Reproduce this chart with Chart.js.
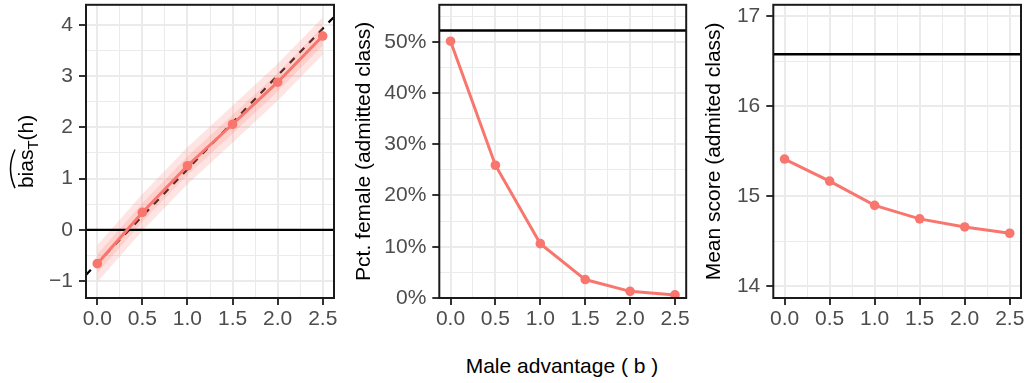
<!DOCTYPE html>
<html>
<head>
<meta charset="utf-8">
<script src="https://cdn.jsdelivr.net/npm/chart.js@4.4.1/dist/chart.umd.min.js"></script>
<style>
  body { margin: 0; background: #fff; width: 1027px; height: 383px; position: relative; overflow: hidden;
         font-family: 'Liberation Sans', Arial, sans-serif; }
  canvas { position: absolute; top: 0; }
  #xtitle { position: absolute; top: 353px; left: 362px; width: 400px; text-align: center;
            font-size: 21px; line-height: 1.2; color: #000; }
</style>
</head>
<body>
<canvas id="biasChart" width="343" height="335" style="left:0px"></canvas>
<canvas id="femaleChart" width="348" height="335" style="left:343px"></canvas>
<canvas id="scoreChart" width="336" height="335" style="left:691px"></canvas>
<div id="xtitle">Male advantage ( b )</div>
<script>
// shared x axis: male advantage b
const maleAdvantage = [0, 0.5, 1, 1.5, 2, 2.5];
const xTicks = [0, 0.5, 1, 1.5, 2, 2.5];
const xTickLabels = ['0.0', '0.5', '1.0', '1.5', '2.0', '2.5'];
const xMinor = [0.25, 0.75, 1.25, 1.75, 2.25];
const X_MIN = -0.125, X_MAX = 2.625;

// panel 1: estimated bias with two bands
const biasHat = [-0.66, 0.34, 1.25, 2.06, 2.88, 3.78];
const biasInnerLow = [-0.84, 0.16, 1.07, 1.88, 2.70, 3.60];
const biasInnerHigh = [-0.48, 0.52, 1.43, 2.24, 3.06, 3.96];
const biasOuterLow = [-1.02, -0.02, 0.89, 1.70, 2.52, 3.42];
const biasOuterHigh = [-0.30, 0.70, 1.61, 2.42, 3.24, 4.14];
const biasRefIntercept = -0.65, biasRefSlope = 1.83; // dashed reference line
const biasZero = 0;
const biasTicks = [-1, 0, 1, 2, 3, 4];
const biasTickLabels = ['\u22121', '0', '1', '2', '3', '4'];
const biasMinor = [-0.5, 0.5, 1.5, 2.5, 3.5];

// panel 2: share of women in admitted class
const pctFemale = [0.501, 0.259, 0.106, 0.036, 0.013, 0.006];
const pctFemaleRef = 0.522;
const pctTicks = [0, 0.1, 0.2, 0.3, 0.4, 0.5];
const pctTickLabels = ['0%', '10%', '20%', '30%', '40%', '50%'];
const pctMinor = [0.05, 0.15, 0.25, 0.35, 0.45, 0.55];

// panel 3: mean score of admitted class
const meanScore = [15.415, 15.17, 14.9, 14.75, 14.66, 14.59];
const meanScoreRef = 16.58;
const scoreTicks = [14, 15, 16, 17];
const scoreTickLabels = ['14', '15', '16', '17'];
const scoreMinor = [14.5, 15.5, 16.5];

Chart.defaults.font.family = "'Liberation Sans', Arial, sans-serif";
Chart.defaults.animation = false;

const RED = '#F8766D';

function scaleOpts(min, max, majors, labels, minors, extra) {
  const all = majors.concat(minors).sort((a, b) => a - b);
  const isMajor = c => c.tick && majors.includes(c.tick.value);
  return Object.assign({
    type: 'linear', min, max,
    afterBuildTicks: axis => { axis.ticks = all.map(v => ({ value: v })); },
    ticks: {
      autoSkip: false, maxRotation: 0, color: '#4D4D4D', font: { size: 21 },
      callback: v => { const i = majors.indexOf(v); return i < 0 ? '' : labels[i]; }
    },
    grid: {
      color: '#EBEBEB',
      lineWidth: c => isMajor(c) ? 2 : 1,
      tickColor: c => isMajor(c) ? '#333333' : 'rgba(0,0,0,0)',
      tickLength: 7, tickWidth: 2
    },
    border: { display: false }
  }, extra);
}

// fix the axis box so the panel lands where the reference has it
const fitY = w => s => { s.width = w; s.paddingTop = 0; s.paddingBottom = 0; };
const fitX = h => s => { s.height = h; s.paddingLeft = 0; s.paddingRight = 0; };

const pts = ys => maleAdvantage.map((x, i) => ({ x, y: ys[i] }));
const hline = (y, order) => ({
  data: [{ x: X_MIN, y }, { x: X_MAX, y }], borderColor: '#000', borderWidth: 2.4,
  pointRadius: 0, fill: false, order
});
const series = (ys) => ({
  data: pts(ys), borderColor: RED, backgroundColor: RED, borderWidth: 3,
  pointRadius: 4.8, pointHoverRadius: 4.8, pointBorderWidth: 0, fill: false, order: 0
});
const band = (ys, fill, order) => ({
  data: pts(ys), borderColor: 'rgba(0,0,0,0)', borderWidth: 0, pointRadius: 0,
  backgroundColor: 'rgba(248,118,109,0.2)', fill, order
});

const panelBorder = {
  id: 'panelBorder',
  afterDatasetsDraw(chart) {
    const a = chart.chartArea, ctx = chart.ctx;
    ctx.save();
    ctx.strokeStyle = '#1A1A1A';
    ctx.lineWidth = 2;
    ctx.strokeRect(a.left, a.top, a.right - a.left, a.bottom - a.top);
    ctx.restore();
  }
};

// y title with a hat and subscript for panel 1
const biasTitle = {
  id: 'biasTitle',
  afterDraw(chart) {
    const ctx = chart.ctx, a = chart.chartArea;
    ctx.save();
    ctx.translate(33, (a.top + a.bottom) / 2);
    ctx.rotate(-Math.PI / 2);
    ctx.fillStyle = '#000';
    ctx.textBaseline = 'alphabetic';
    ctx.font = "21px 'Liberation Sans', Arial, sans-serif";
    const w1 = ctx.measureText('bias').width;
    const w3 = ctx.measureText('(h)').width;
    ctx.font = "15px 'Liberation Sans', Arial, sans-serif";
    const w2 = ctx.measureText('T').width;
    let x = -(w1 + w2 + w3) / 2;
    const x0 = x;
    ctx.font = "21px 'Liberation Sans', Arial, sans-serif";
    ctx.fillText('bias', x, 0);
    x += w1;
    ctx.font = "15px 'Liberation Sans', Arial, sans-serif";
    ctx.fillText('T', x, 5);
    x += w2;
    ctx.font = "21px 'Liberation Sans', Arial, sans-serif";
    ctx.fillText('(h)', x, 0);
    ctx.strokeStyle = '#000';
    ctx.lineWidth = 1.5;
    ctx.beginPath();
    ctx.moveTo(x0, -18);
    ctx.quadraticCurveTo(x0 + w1 / 2, -27, x0 + w1, -18);
    ctx.stroke();
    ctx.restore();
  }
};

function xScale() {
  const s = scaleOpts(X_MIN, X_MAX, xTicks, xTickLabels, xMinor, { afterFit: fitX(37) });
  s.ticks.padding = 2;
  return s;
}

function makeChart(id, datasets, yScale, padRight, extraPlugins) {
  return new Chart(document.getElementById(id), {
    type: 'line',
    data: { datasets },
    options: {
      responsive: false,
      layout: { padding: { left: 0, right: padRight, top: 2, bottom: 0 } },
      plugins: { legend: { display: false }, tooltip: { enabled: false } },
      scales: { x: xScale(), y: yScale }
    },
    plugins: [panelBorder].concat(extraPlugins || [])
  });
}

// panel 1
const biasY = scaleOpts(-1.33, 4.39, biasTicks, biasTickLabels, biasMinor, { afterFit: fitY(86) });
biasY.ticks.padding = 6;
makeChart('biasChart', [
  series(biasHat),
  hline(biasZero, 1),
  band(biasInnerHigh, '+1', 2),
  band(biasInnerLow, false, 2),
  band(biasOuterHigh, '+1', 3),
  band(biasOuterLow, false, 3),
  {
    data: [X_MIN, X_MAX].map(x => ({ x, y: biasRefIntercept + biasRefSlope * x })),
    borderColor: '#000', borderWidth: 2.2, borderDash: [7, 7], pointRadius: 0, fill: false, order: 4
  }
], biasY, 9, [biasTitle]);

// panel 2
const pctY = scaleOpts(0, 0.572, pctTicks, pctTickLabels, pctMinor, {
  afterFit: fitY(96.3),
  title: { display: true, text: 'Pct. female (admitted class)', color: '#000', font: { size: 21 }, padding: { top: 9, bottom: 0 } }
});
pctY.ticks.padding = 6;
makeChart('femaleChart', [series(pctFemale), hline(pctFemaleRef, 1)], pctY, 4.3);

// panel 3
const scoreY = scaleOpts(13.87, 17.13, scoreTicks, scoreTickLabels, scoreMinor, {
  afterFit: fitY(82.3),
  title: { display: true, text: 'Mean score (admited class)', color: '#000', font: { size: 21 }, padding: { top: 10.4, bottom: 0 } }
});
scoreY.ticks.padding = 6;
makeChart('scoreChart', [series(meanScore), hline(meanScoreRef, 1)], scoreY, 6);
</script>
</body>
</html>
